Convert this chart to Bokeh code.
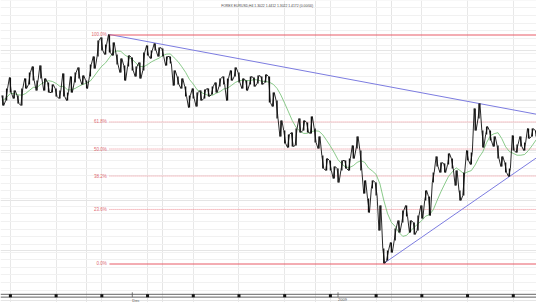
import numpy as np
import pandas as pd
from bokeh.plotting import figure
from bokeh.models import Range1d, Grid, FixedTicker, Label
from bokeh.core.properties import value
from bokeh.embed import file_html
from bokeh.resources import INLINE

# ---------------- data ----------------
bar_index = list(range(-2, 139))
bar_high = [1.405, 1.412, 1.423, 1.410, 1.405, 1.412, 1.422, 1.428, 1.434, 1.420,
            1.435, 1.422, 1.418, 1.416, 1.412, 1.410, 1.427, 1.408, 1.424, 1.428,
            1.433, 1.425, 1.420, 1.436, 1.444, 1.460, 1.463, 1.456, 1.466, 1.458,
            1.446, 1.442, 1.435, 1.445, 1.443, 1.434, 1.438, 1.448, 1.455, 1.450,
            1.457, 1.453, 1.452, 1.444, 1.444, 1.430, 1.424, 1.422, 1.414, 1.405,
            1.412, 1.408, 1.410, 1.411, 1.412, 1.414, 1.418, 1.422, 1.424, 1.422,
            1.430, 1.433, 1.428, 1.422, 1.420, 1.424, 1.423, 1.425, 1.424, 1.426,
            1.424, 1.408, 1.400, 1.380, 1.370, 1.366, 1.368, 1.372, 1.382, 1.380,
            1.378, 1.384, 1.372, 1.364, 1.345, 1.342, 1.340, 1.334, 1.332, 1.340,
            1.340, 1.342, 1.355, 1.364, 1.350, 1.320, 1.302, 1.320, 1.318, 1.295,
            1.252, 1.250, 1.258, 1.272, 1.280, 1.290, 1.295, 1.280, 1.278, 1.285,
            1.295, 1.310, 1.304, 1.328, 1.344, 1.338, 1.337, 1.347, 1.342, 1.330,
            1.310, 1.328, 1.350, 1.348, 1.392, 1.397, 1.370, 1.374, 1.370, 1.364,
            1.355, 1.344, 1.338, 1.332, 1.365, 1.356, 1.364, 1.358, 1.372, 1.372,
            1.370]
bar_low = [1.395, 1.400, 1.408, 1.402, 1.397, 1.395, 1.412, 1.416, 1.420, 1.410,
           1.422, 1.410, 1.408, 1.408, 1.404, 1.402, 1.404, 1.400, 1.408, 1.418,
           1.422, 1.416, 1.412, 1.424, 1.432, 1.444, 1.450, 1.446, 1.448, 1.445,
           1.436, 1.428, 1.420, 1.434, 1.430, 1.424, 1.422, 1.430, 1.445, 1.442,
           1.450, 1.444, 1.444, 1.435, 1.437, 1.415, 1.416, 1.412, 1.404, 1.393,
           1.402, 1.394, 1.400, 1.402, 1.404, 1.406, 1.408, 1.414, 1.416, 1.400,
           1.420, 1.424, 1.418, 1.412, 1.410, 1.416, 1.414, 1.417, 1.416, 1.418,
           1.398, 1.394, 1.382, 1.364, 1.357, 1.353, 1.354, 1.355, 1.368, 1.370,
           1.368, 1.367, 1.358, 1.352, 1.332, 1.330, 1.330, 1.322, 1.318, 1.330,
           1.332, 1.330, 1.342, 1.352, 1.330, 1.307, 1.288, 1.312, 1.305, 1.270,
           1.237, 1.240, 1.248, 1.260, 1.268, 1.278, 1.284, 1.268, 1.266, 1.270,
           1.282, 1.300, 1.285, 1.318, 1.334, 1.328, 1.328, 1.336, 1.332, 1.315,
           1.300, 1.305, 1.340, 1.336, 1.370, 1.382, 1.353, 1.366, 1.360, 1.354,
           1.342, 1.334, 1.328, 1.324, 1.350, 1.348, 1.354, 1.350, 1.362, 1.364,
           1.364]

fib_ratios = [0.0, 0.236, 0.382, 0.5, 0.618, 1.0]
fib_labels = ["0.0%", "23.6%", "38.2%", "50.0%", "61.8%", "100.0%"]

# trend line anchor bars (index values)
upper_anchor = [26, 123]
lower_anchor = [98, 131]

month_ticks = [32, 86]
month_labels = ["Dec", "2009"]
grid_step = 12
ma_window = 7
title_text = "FOREX EURUSD,H4  1.3022  1.4412  1.3022  1.4172  (0.00/00)"

# ---------------- figure ----------------
X0, X1 = -2.6, 138.1
Y0, Y1 = 1.198, 1.500
p = figure(width=536, height=302, x_range=Range1d(X0, X1), y_range=Range1d(Y0, Y1),
           x_axis_location=None, y_axis_location=None, toolbar_location=None,
           output_backend="svg", min_border=0, outline_line_color=None,
           background_fill_color="white", border_fill_color="white")

hi = np.array(bar_high)
lo = np.array(bar_low)
idx = np.array(bar_index, dtype=float)
swing_hi = hi.max()
swing_lo = lo.min()
start_i = idx[int(hi.argmax())]
rng = swing_hi - swing_lo

x_ticks = list(range(0, 139, grid_step))
y_ticks = [swing_lo + (k + 0.5) * rng / 30.0 for k in range(-5, 35)]
p.add_layout(Grid(dimension=0, ticker=FixedTicker(ticks=x_ticks),
                  grid_line_color="#e8e8e8", grid_line_width=1))
p.add_layout(Grid(dimension=1, ticker=FixedTicker(ticks=y_ticks),
                  grid_line_color="#f1f1f1", grid_line_width=1))

# trend lines
def ext_line(a, b, ya, yb):
    s = (yb - ya) / (b - a)
    return [a, X1], [ya, ya + s * (X1 - a)]

pos = {v: k for k, v in enumerate(bar_index)}
ux, uy = ext_line(upper_anchor[0], upper_anchor[1], hi[pos[upper_anchor[0]]], hi[pos[upper_anchor[1]]])
lx, ly = ext_line(lower_anchor[0], lower_anchor[1], lo[pos[lower_anchor[0]]], lo[pos[lower_anchor[1]]])

levels = [swing_lo + r * rng for r in fib_ratios]
for r, lev in zip(fib_ratios, levels):
    if r not in (0.0, 1.0):
        p.line([start_i, X1], [lev, lev], line_color="#ee8c94", line_width=1,
               line_dash="1 1")
p.text(x=[start_i - 0.7] * len(levels), y=levels, text=fib_labels,
       text_align="right", text_baseline="middle", text_font_size="4.5px",
       text_color="#e06a72", text_font=value("Liberation Sans"))

p.line(ux, uy, line_color="#7c7ce0", line_width=1)
p.line(lx, ly, line_color="#7c7ce0", line_width=1)

# moving average
mid = (hi + lo) / 2
ma = pd.Series(mid).rolling(ma_window, min_periods=1).mean().values
p.line(idx, ma, line_color="#6cbc6c", line_width=0.8)

# price bars: vertical ranges plus a zig-zag through them
p.segment(x0=idx, x1=idx, y0=lo, y1=hi, line_color="#111111", line_width=1.3)
zx, zy = [], []
for k, i in enumerate(idx):
    if k % 2 == 0:
        zx += [i - 0.25, i + 0.25]; zy += [hi[k], lo[k]]
    else:
        zx += [i - 0.25, i + 0.25]; zy += [lo[k], hi[k]]
p.line(zx, zy, line_color="#111111", line_width=0.9)

# solid 0% / 100% levels drawn on top
for r, lev in zip(fib_ratios, levels):
    if r in (0.0, 1.0):
        p.line([start_i, X1], [lev - 0.0005, lev - 0.0005], line_color="#e85a66",
               line_width=1)

# bottom axis (double line with tick blocks)
ax_a = Y0 + (302 - 293.8) / 1000
ax_b = Y0 + (302 - 296.6) / 1000
p.segment(x0=[X0, X0], x1=[X1, X1], y0=[ax_a, ax_b], y1=[ax_a, ax_b],
          line_color="#666666", line_width=1)
p.scatter(x=x_ticks, y=[(ax_a + ax_b) / 2] * len(x_ticks), marker="square", size=3,
          fill_color="#111111", line_color=None)
p.segment(x0=month_ticks, x1=month_ticks, y0=[ax_a + 0.002] * 2, y1=[ax_b] * 2,
          line_color="#555555", line_width=0.8)
p.text(x=month_ticks, y=[ax_b - 0.0012] * 2, text=month_labels, text_align="left",
       text_baseline="top", text_font_size="4px", text_color="#555555",
       text_font=value("Liberation Sans"))

p.add_layout(Label(x=269, y=297, x_units="screen", y_units="screen", text=title_text,
                   text_align="center", text_baseline="middle", text_font_size="3.4px",
                   text_color="#444444", text_font="Liberation Sans"))

open("out.html", "w").write(file_html(p, INLINE))
